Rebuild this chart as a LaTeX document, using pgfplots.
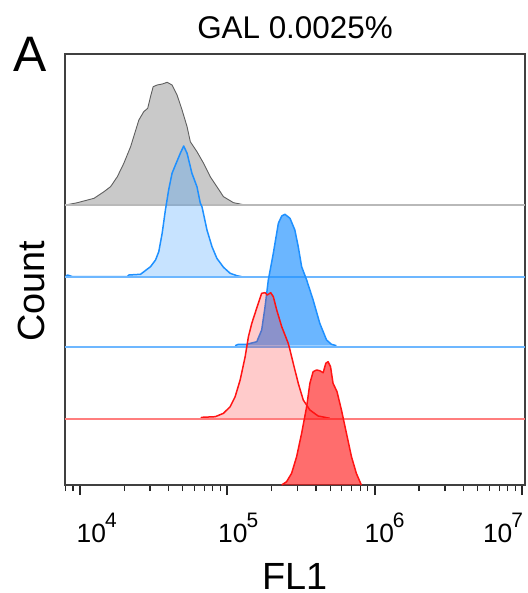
\documentclass[border=0pt]{standalone}
\usepackage{fontspec}
\setmainfont{Liberation Sans}
\usepackage{pgfplots}
\pgfplotsset{compat=1.18}
\definecolor{gline}{RGB}{95,95,95}
\definecolor{gbase}{RGB}{185,185,185}
\definecolor{bl}{RGB}{30,144,255}
\definecolor{rd}{RGB}{255,20,20}
\newcommand\tl[2]{\hspace*{#1}10\kern-1bp\raisebox{15bp}{\fontsize{21}{21}\selectfont #2}}
\begin{document}
\begin{tikzpicture}
\begin{axis}[name=ax, scale only axis, width=460bp, height=431bp,
  xmin=3.90, xmax=7.02, ymin=0, ymax=431, clip=false,
  axis line style={draw=black!75, line width=1.3bp},
  ytick=\empty, xtick={4,5,6,7},
  xticklabels={\tl{34bp}{4},\tl{22bp}{5},\tl{20bp}{6},\tl{-38bp}{7}},
  minor xtick={3.903,3.954,4.301,4.477,4.602,4.699,4.778,4.845,4.903,4.954,5.301,5.477,5.602,5.699,5.778,5.845,5.903,5.954,6.301,6.477,6.602,6.699,6.778,6.845,6.903,6.954},
  xtick pos=lower, tick align=outside,
  major tick length=10bp, minor tick length=6bp,
  tick style={black!85},
  major tick style={line width=2.2bp},
  minor tick style={line width=1.2bp},
  xticklabel style={anchor=base, yshift=-47bp, font=\fontsize{26.5}{26.5}\selectfont},
  every axis title shift=0pt,
  title={GAL 0.0025\%},
  title style={at={(axis description cs:0.5,1.0371)}, anchor=base, font=\fontsize{31.5}{31.5}\selectfont},
  xlabel={FL1},
  xlabel style={at={(axis description cs:0.5,-0.2436)}, anchor=base, inner sep=0pt, text depth=0pt, font=\fontsize{38}{38}\selectfont},
  ylabel={Count},
  ylabel style={at={(axis description cs:-0.0435,0.45)}, anchor=base, font=\fontsize{38}{38}\selectfont},
]
% gray
\addplot[fill=black, fill opacity=0.21, draw=gline, line width=0.9bp] coordinates {
(3.905,280) (3.984,282.3) (4.097,286.7) (4.164,293.3) (4.209,298.3) (4.255,308.3) (4.299,321.7) (4.345,338.3) (4.401,365) (4.434,373.3) (4.461,376.7) (4.480,388.3) (4.498,398.3) (4.525,400) (4.560,401) (4.593,402.7) (4.626,400) (4.660,390) (4.694,375) (4.728,358.3) (4.750,343.3) (4.795,333.3) (4.840,321.7) (4.885,308.3) (4.930,298.3) (4.975,288.3) (5.043,282.3) (5.122,280)};
\addplot[draw=gbase, line width=1.1bp] coordinates {(3.90,280) (7.02,280)};
% light blue
\addplot[fill=bl, fill opacity=0.25, draw=bl, line width=1.5bp, line join=round] coordinates {
(3.905,208.5) (3.917,210) (3.951,208.3) (4.322,208.3) (4.333,210) (4.412,210.7) (4.480,218.3) (4.514,225) (4.536,233.3) (4.559,251.7) (4.581,275) (4.603,295) (4.626,311.7) (4.649,320) (4.682,331.7) (4.705,339) (4.728,331.7) (4.761,311.7) (4.795,298.3) (4.818,281.7) (4.829,278.3) (4.863,255) (4.897,238.3) (4.930,226.7) (4.975,217.7) (5.020,211.7) (5.066,209.3) (5.099,208.3)};
\addplot[draw=bl!65, line width=1.3bp] coordinates {(3.90,208) (7.02,208)};
% dark blue
\addplot[fill=bl, fill opacity=0.66, draw=bl, line width=1.5bp, line join=round] coordinates {
(5.054,139.3) (5.076,140.7) (5.133,140.7) (5.201,143.3) (5.234,155) (5.257,178.3) (5.279,205) (5.313,231.7) (5.347,261.7) (5.370,269) (5.392,270.7) (5.426,266.7) (5.459,255) (5.482,238.3) (5.505,218.3) (5.539,205) (5.583,185) (5.628,161.7) (5.674,145) (5.707,140.7) (5.741,139.3)};
\addplot[draw=bl!65, line width=1.3bp] coordinates {(3.90,138) (7.02,138)};
% light red
\addplot[fill=rd, fill opacity=0.22, draw=rd, line width=1.5bp, line join=round] coordinates {
(4.818,66) (4.829,67.7) (4.919,68.3) (4.975,71.7) (5.020,78.3) (5.054,88.3) (5.088,105) (5.122,128.3) (5.144,148.3) (5.167,161.7) (5.189,171.7) (5.211,181.7) (5.234,191.7) (5.257,192.3) (5.272,190) (5.295,192.3) (5.313,188.3) (5.336,175) (5.370,158.3) (5.414,141.7) (5.426,135) (5.448,121.7) (5.482,101.7) (5.516,85) (5.561,75) (5.617,69) (5.696,66.7)};
\addplot[draw=rd!55, line width=1.3bp] coordinates {(3.90,66) (7.02,66)};
% dark red
\addplot[fill=rd, fill opacity=0.62, draw=rd, line width=1.5bp, line join=round] coordinates {
(5.370,0) (5.403,3.3) (5.437,11.7) (5.471,28.3) (5.505,51.7) (5.539,78.3) (5.561,101.7) (5.583,113.3) (5.606,115) (5.628,114.3) (5.651,112.3) (5.669,121.7) (5.684,123.3) (5.701,118.3) (5.718,101.7) (5.745,93.3) (5.775,75) (5.809,51.7) (5.843,28.3) (5.876,11.7) (5.910,0)};
\end{axis}
\node[anchor=base west, inner sep=0pt, font=\fontsize{50}{50}\selectfont] at ([shift={(-52bp,-18bp)}]ax.north west) {A};
\pgfresetboundingbox
\path ([shift={(-65bp,-108bp)}]ax.south west) rectangle ([shift={(3bp,54bp)}]ax.north east);
\end{tikzpicture}
\end{document}
